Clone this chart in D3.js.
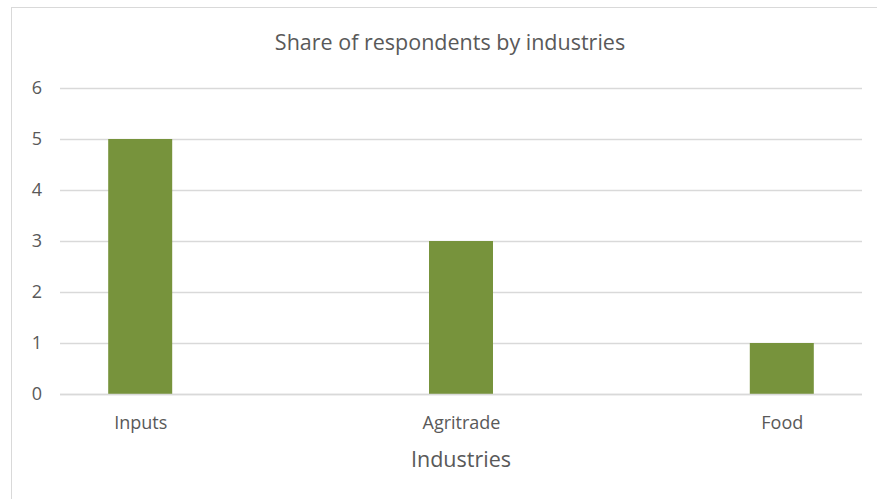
<!DOCTYPE html>
<html>
<head>
<meta charset="utf-8">
<script src="https://cdn.jsdelivr.net/npm/d3@7"></script>
<style>
  html, body { margin: 0; padding: 0; background: #fff; }
  svg { display: block; }
  text { font-family: "Open Sans", "Noto Sans", sans-serif; fill: #595959; }
</style>
</head>
<body>
<svg id="chart" width="877" height="499"></svg>
<script>
const categories = ["Inputs", "Agritrade", "Food"];
const values = [5, 3, 1];
const yTicks = [0, 1, 2, 3, 4, 5, 6];
const titleText = "Share of respondents by industries";
const xTitle = "Industries";

const svg = d3.select("#chart");
const W = 877, H = 499;
const plot = { left: 60, right: 862, top: 88, bottom: 394 };

// outer chart frame
svg.append("rect")
  .attr("x", 11.5).attr("y", 7.5)
  .attr("width", W + 20).attr("height", H + 20)
  .attr("fill", "#fff").attr("stroke", "#d9d9d9").attr("stroke-width", 1);

const x = d3.scalePoint().domain(categories)
  .range([plot.left, plot.right]).padding(0.25);
const y = d3.scaleLinear().domain([0, 6]).range([plot.bottom, plot.top]);
const barW = 64;

// horizontal gridlines
svg.append("g").selectAll("line").data(yTicks).join("line")
  .attr("x1", plot.left).attr("x2", plot.right)
  .attr("y1", d => Math.round(y(d)) + 0.5).attr("y2", d => Math.round(y(d)) + 0.5)
  .attr("stroke", "#d9d9d9").attr("stroke-width", 1.3);

// y tick labels
const yAxis = d3.axisLeft(y).tickValues(yTicks).tickFormat(d3.format("d"))
  .tickSize(0).tickPadding(0);
const gy = svg.append("g").attr("transform", "translate(42,0)").call(yAxis);
gy.select(".domain").remove();
gy.selectAll("text").attr("font-size", 18).attr("fill", "#595959")
  .style("font-family", '"Open Sans", sans-serif');

// bars
svg.append("g").selectAll("rect").data(values).join("rect")
  .attr("x", (d, i) => x(categories[i]) - barW / 2)
  .attr("y", d => y(d))
  .attr("width", barW)
  .attr("height", d => y(0) - y(d))
  .attr("fill", "#77933c");

// baseline over bars
svg.append("line")
  .attr("x1", plot.left).attr("x2", plot.right)
  .attr("y1", Math.round(y(0)) + 0.5).attr("y2", Math.round(y(0)) + 0.5)
  .attr("stroke", "#d9d9d9").attr("stroke-width", 1.3);

// category labels
const xAxis = d3.axisBottom(x).tickSize(0).tickPadding(0);
const gx = svg.append("g").attr("transform", `translate(0,${plot.bottom})`).call(xAxis);
gx.select(".domain").remove();
gx.selectAll("text").attr("font-size", 18).attr("fill", "#595959")
  .attr("y", 35).attr("dy", null)
  .style("font-family", '"Open Sans", sans-serif');

// axis title
svg.append("text")
  .attr("x", 461).attr("y", 467)
  .attr("text-anchor", "middle").attr("font-size", 21.5)
  .text(xTitle);

// chart title
svg.append("text")
  .attr("x", 450).attr("y", 50)
  .attr("text-anchor", "middle").attr("font-size", 21.5)
  .text(titleText);
</script>
</body>
</html>
